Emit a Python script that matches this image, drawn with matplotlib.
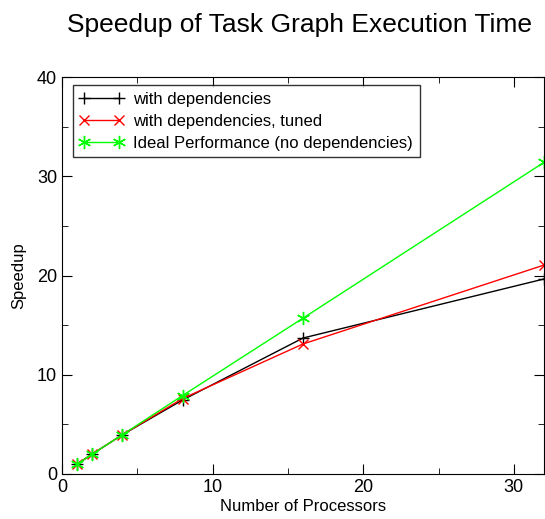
import matplotlib
matplotlib.use("Agg")
import matplotlib.pyplot as plt
from matplotlib.ticker import MultipleLocator

plt.rcParams['font.family'] = ['Liberation Sans', 'DejaVu Sans']

procs = [1, 2, 4, 8, 16, 32]
with_deps = [1.0, 2.0, 3.95, 7.45, 13.7, 19.65]
with_deps_tuned = [1.0, 2.0, 3.95, 7.6, 13.1, 21.05]
ideal = [1.0, 2.0, 3.95, 7.9, 15.7, 31.4]

fig = plt.figure(figsize=(5.45, 5.19), dpi=100)
ax = fig.add_axes([62 / 545, 1 - 474 / 519, (544 - 62) / 545, (474 - 77) / 519])

ax.plot(procs, with_deps, color='black', lw=1, marker='+', ms=9, mew=1,
        label='with dependencies')
ax.plot(procs, with_deps_tuned, color='red', lw=1, marker='x', ms=6.5, mew=1,
        label='with dependencies, tuned')
ax.plot(procs, ideal, color='#00ff00', lw=1, marker=(6, 2, 0), ms=9.5, mew=1,
        label='Ideal Performance (no dependencies)')

ax.set_xlim(0, 32)
ax.set_ylim(0, 40)
ax.xaxis.set_major_locator(MultipleLocator(10))
ax.xaxis.set_minor_locator(MultipleLocator(5))
ax.yaxis.set_major_locator(MultipleLocator(10))
ax.yaxis.set_minor_locator(MultipleLocator(5))
ax.tick_params(which='both', direction='in', top=True, right=True, labelsize=13)
ax.tick_params(which='major', length=7)
ax.tick_params(which='minor', length=4)

ax.set_xlabel('Number of Processors', fontsize=12, labelpad=2)
ax.set_ylabel('Speedup', fontsize=12, labelpad=8)
fig.suptitle('Speedup of Task Graph Execution Time', fontsize=19, x=0.55, y=0.975)

leg = ax.legend(loc='upper left', bbox_to_anchor=(0.022, 0.98), fontsize=12.0,
                frameon=True, fancybox=False, edgecolor='black', handlelength=2.7,
                numpoints=2, borderpad=0.4, labelspacing=0.42, handletextpad=0.55,
                borderaxespad=0)
leg.get_frame().set_linewidth(1)

fig.savefig('out.png', dpi=100)
